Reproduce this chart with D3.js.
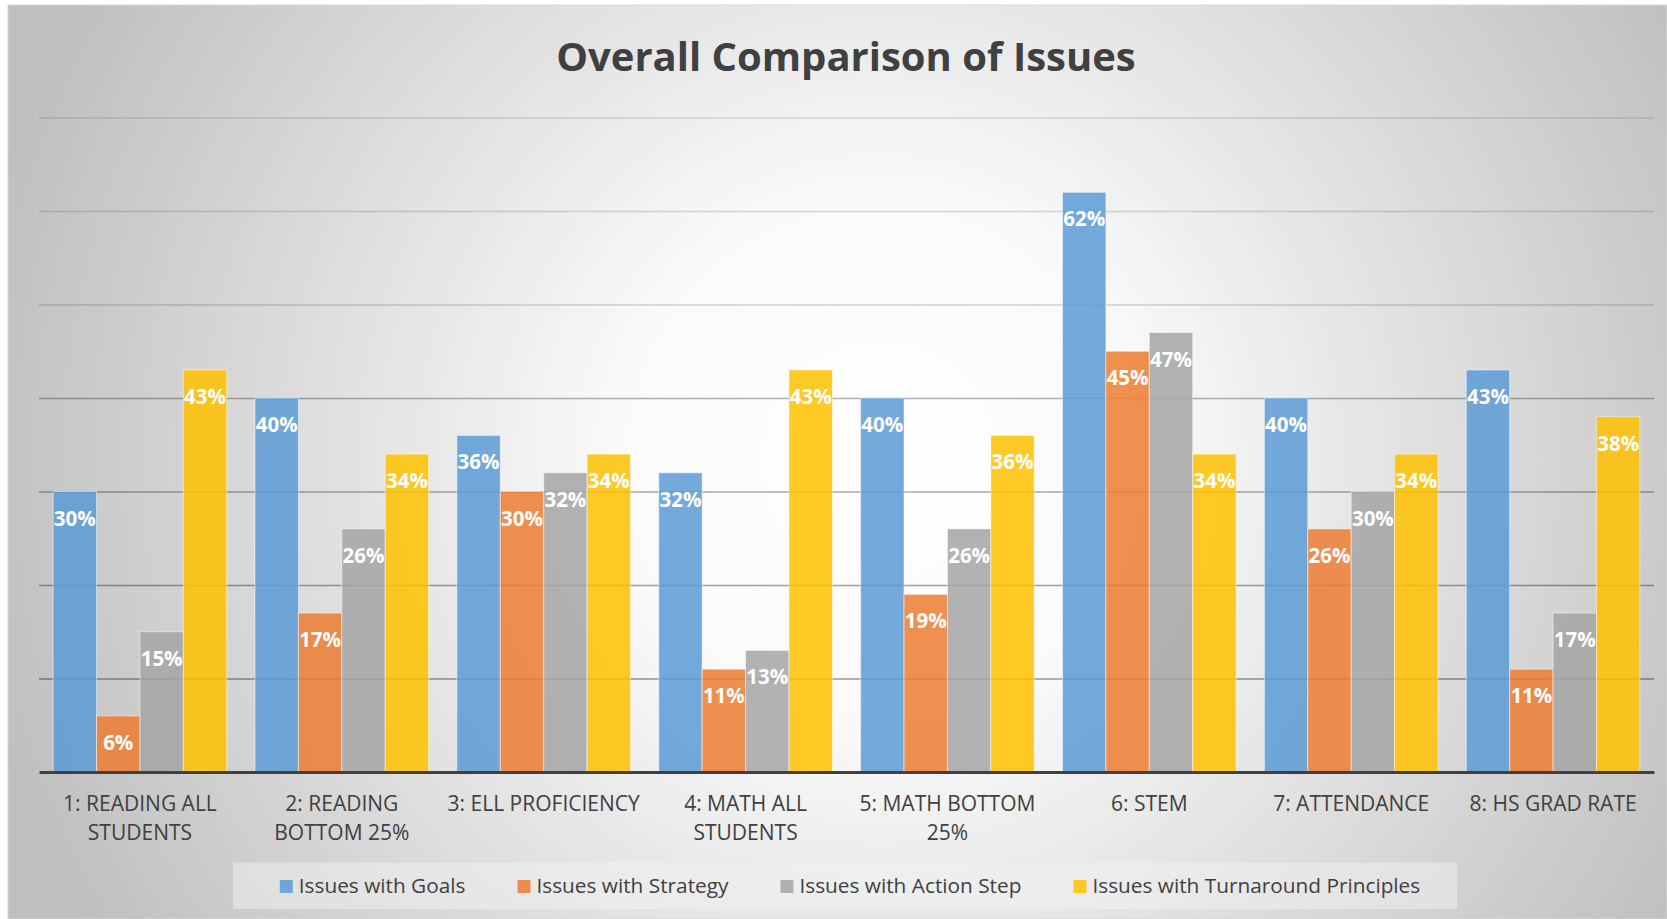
<!DOCTYPE html>
<html>
<head>
<meta charset="utf-8">
<script src="https://cdn.jsdelivr.net/npm/d3@7"></script>
<style>
  body { margin: 0; background: #fff; }
  text { font-family: "Open Sans", sans-serif; }
</style>
</head>
<body>
<div id="chart"></div>
<script>
// data
var categories = [
  ["1: READING ALL", "STUDENTS"],
  ["2: READING", "BOTTOM 25%"],
  ["3: ELL PROFICIENCY"],
  ["4: MATH ALL", "STUDENTS"],
  ["5: MATH BOTTOM", "25%"],
  ["6: STEM"],
  ["7: ATTENDANCE"],
  ["8: HS GRAD RATE"]
];
var seriesNames = ["Issues with Goals", "Issues with Strategy", "Issues with Action Step", "Issues with Turnaround Principles"];
var goals      = [0.30, 0.40, 0.36, 0.32, 0.40, 0.62, 0.40, 0.43];
var strategy   = [0.06, 0.17, 0.30, 0.11, 0.19, 0.45, 0.26, 0.11];
var actionStep = [0.15, 0.26, 0.32, 0.13, 0.26, 0.47, 0.30, 0.17];
var turnaround = [0.43, 0.34, 0.34, 0.43, 0.36, 0.34, 0.34, 0.38];
var yTicks = [0, 0.1, 0.2, 0.3, 0.4, 0.5, 0.6, 0.7];

var colors = ["#5B9BD5", "#ED7D31", "#A5A5A5", "#FFC000"];
var allSeries = [goals, strategy, actionStep, turnaround];

var svgWidth = 1667, svgHeight = 919;
var margin = {top: 117.5, left: 39, bottom: 147, right: 13};
var chartwidth = svgWidth - margin.left - margin.right,
    chartheight = svgHeight - margin.top - margin.bottom;

var svg = d3.select("#chart").append("svg")
  .attr("width", svgWidth)
  .attr("height", svgHeight);

// background panel with radial gradient
var defs = svg.append("defs");
var grad = defs.append("radialGradient")
  .attr("id", "bg")
  .attr("gradientUnits", "userSpaceOnUse")
  .attr("cx", 880).attr("cy", 460).attr("r", 920);
grad.append("stop").attr("offset", 0).attr("stop-color", "#ffffff");
grad.append("stop").attr("offset", 0.28).attr("stop-color", "#fafafa");
grad.append("stop").attr("offset", 1).attr("stop-color", "#bfbfbf");

svg.append("rect")
  .attr("x", 8).attr("y", 5)
  .attr("width", svgWidth - 8).attr("height", svgHeight - 5)
  .attr("fill", "url(#bg)")
  .attr("stroke", "#d9d9d9")
  .attr("stroke-width", 1);

// title
svg.append("text")
  .attr("x", 846)
  .attr("y", 71)
  .attr("text-anchor", "middle")
  .style("font-size", "40px")
  .style("font-weight", "bold")
  .style("fill", "#404040")
  .text("Overall Comparison of Issues");

var g = svg.append("g")
  .attr("transform", "translate(" + margin.left + "," + margin.top + ")");

var y = d3.scaleLinear().domain([0, 0.7]).range([chartheight, 0]);

var x0 = d3.scaleBand()
  .domain(d3.range(categories.length))
  .range([0, chartwidth])
  .paddingInner(0.14)
  .paddingOuter(0.07);

var x1 = d3.scaleBand()
  .domain(d3.range(seriesNames.length))
  .range([0, x0.bandwidth()]);

// gridlines (lighter toward the top)
var gridOpacity = d3.scaleLinear().domain([0.1, 0.4, 0.5, 0.7]).range([0.4, 0.3, 0.17, 0.12]);
var grid = g.append("g")
  .call(d3.axisLeft(y).tickValues(yTicks.slice(1)).tickSize(-chartwidth).tickFormat(""));
grid.select(".domain").remove();
grid.selectAll(".tick line")
  .attr("stroke", "#000")
  .attr("stroke-opacity", function(d) { return gridOpacity(d); })
  .attr("stroke-width", 1.3);

// bars
var groups = g.selectAll("g.cat")
  .data(categories)
  .enter().append("g")
  .attr("class", "cat")
  .attr("transform", function(d, i) { return "translate(" + x0(i) + ",0)"; });

groups.each(function(d, i) {
  var grp = d3.select(this);
  var vals = allSeries.map(function(s, j) { return {s: j, v: s[i]}; });

  grp.selectAll("rect")
    .data(vals)
    .enter().append("rect")
    .attr("x", function(e) { return x1(e.s); })
    .attr("y", function(e) { return y(e.v); })
    .attr("width", x1.bandwidth())
    .attr("height", function(e) { return chartheight - y(e.v); })
    .attr("fill", function(e) { return colors[e.s]; })
    .attr("fill-opacity", 0.85)
    .attr("stroke", "#ffffff")
    .attr("stroke-opacity", 0.5)
    .attr("stroke-width", 1);

  grp.selectAll("text.lbl")
    .data(vals)
    .enter().append("text")
    .attr("class", "lbl")
    .attr("x", function(e) { return x1(e.s) + x1.bandwidth() / 2; })
    .attr("y", function(e) { return y(e.v) + 34; })
    .attr("text-anchor", "middle")
    .style("font-size", "20.5px")
    .style("font-weight", "bold")
    .style("fill", "#ffffff")
    .text(function(e) { return d3.format(".0%")(e.v); });
});

// x axis
var xAxis = g.append("g")
  .attr("transform", "translate(0," + chartheight + ")")
  .call(d3.axisBottom(x0).tickSize(0).tickFormat(""));
xAxis.select(".domain")
  .attr("stroke", "#404040")
  .attr("stroke-width", 3);

xAxis.selectAll(".tick").each(function(d) {
  var t = d3.select(this).append("text")
    .attr("text-anchor", "middle")
    .style("font-size", "21px")
    .style("fill", "#404040");
  categories[d].forEach(function(line, k) {
    t.append("tspan").attr("x", 0).attr("y", 39 + k * 28.5).text(line);
  });
});

// legend
var legend = svg.append("g");
legend.append("rect")
  .attr("x", 233).attr("y", 862.5)
  .attr("width", 1224).attr("height", 46.5)
  .attr("fill", "#f2f2f2")
  .attr("fill-opacity", 0.5);

var items = legend.selectAll("g.item")
  .data(seriesNames)
  .enter().append("g")
  .attr("class", "item");
items.append("rect")
  .attr("y", 880)
  .attr("width", 13).attr("height", 13)
  .attr("fill", function(d, i) { return colors[i]; })
  .attr("fill-opacity", 0.85);
items.append("text")
  .attr("y", 892.5)
  .style("font-size", "20.8px")
  .style("fill", "#404040")
  .text(function(d) { return d; });

// place legend items one after another, centred under the chart
var widths = [];
items.select("text").each(function() { widths.push(19 + this.getComputedTextLength()); });
var gap = 52;
var total = d3.sum(widths) + gap * (widths.length - 1);
var cx = 850;
var pos = cx - total / 2;
items.each(function(d, i) {
  d3.select(this).select("rect").attr("x", pos);
  d3.select(this).select("text").attr("x", pos + 19);
  pos += widths[i] + gap;
});
</script>
</body>
</html>
